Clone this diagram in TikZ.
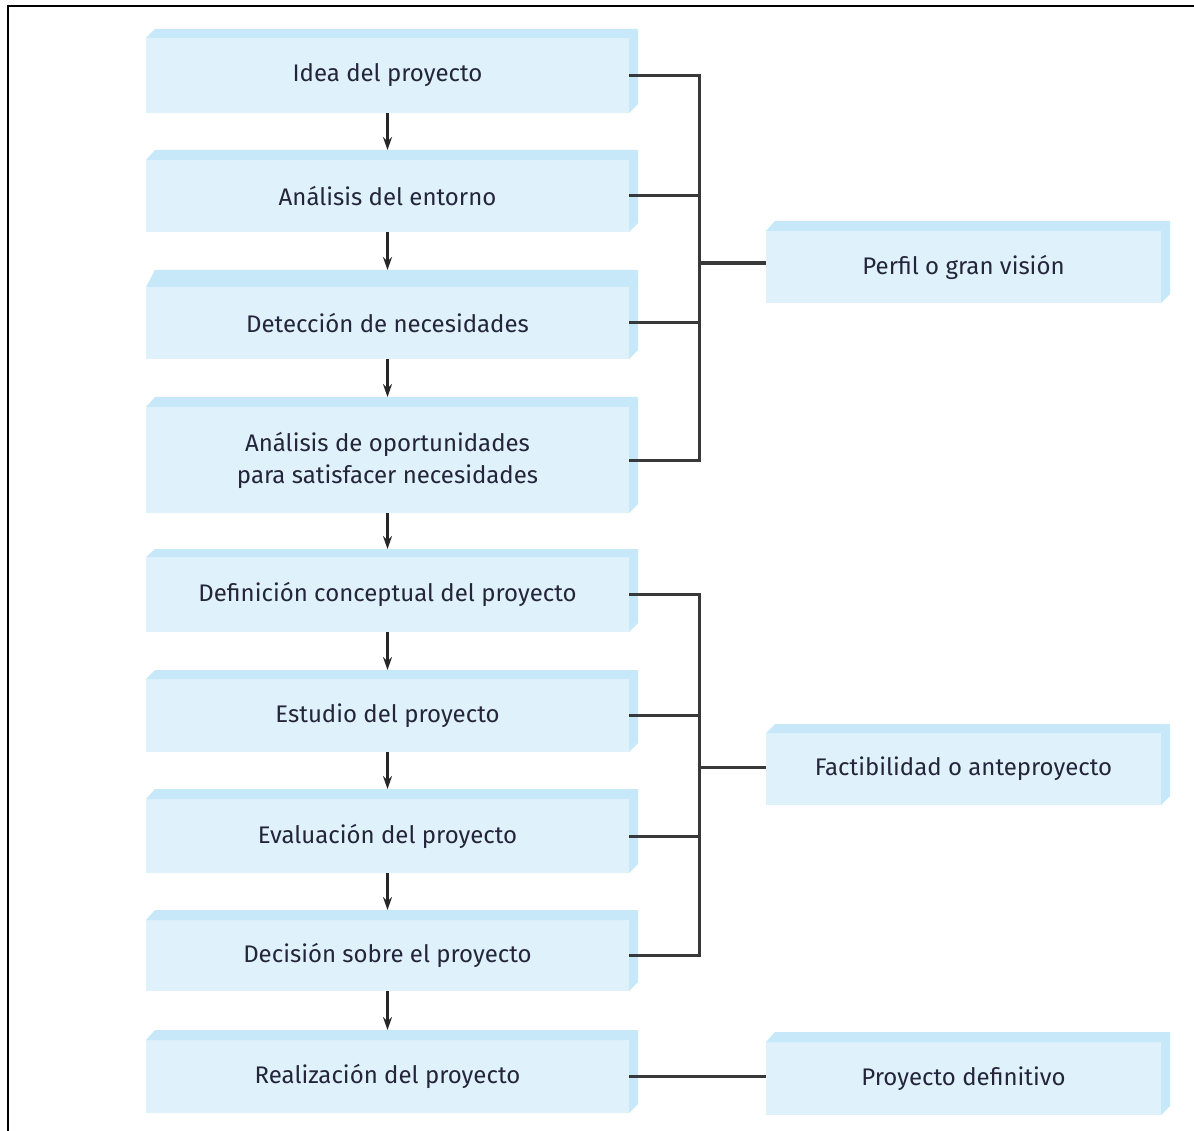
\documentclass[tikz,border=0pt]{standalone}
\usepackage{fontspec}
\setmainfont{Fira Sans}
\usetikzlibrary{arrows.meta}
\definecolor{facec}{HTML}{DFF2FB}
\definecolor{sidec}{HTML}{C7E8F8}
\definecolor{txtc}{HTML}{24243A}
\definecolor{linec}{HTML}{383838}
\tikzset{
  face/.style={fill=facec, draw=none, outer sep=0pt, inner sep=0pt, align=center,
    text=txtc, font=\fontsize{24}{32}\selectfont},
  sidefill/.style={fill=sidec, draw=none},
  conn/.style={draw=linec, line width=3pt},
  arr/.style={draw=black!85, line width=2.2pt, -{Stealth[length=13pt,width=9pt]}},
}
\newcommand{\boxthree}[7]{%
  \node[face, minimum width={(#3-9-#2)*1pt}, minimum height={(#6-#5)*1pt}] (#1) at ({(#2+#3-9)/2},{(#5+#6)/2}) {#7};
  \fill[sidefill] (#1.north west) -- ({#2+9},#4) -- (#3,#4) -- (#1.north east) -- cycle;
  \fill[sidefill] (#1.north east) -- (#3,#4) -- (#3,{#6-9}) -- (#1.south east) -- cycle;
  \coordinate (#1-top) at ({(#2+#3-9)/2},#4);
}
\begin{document}
\begin{tikzpicture}[x=1pt,y=-1pt]
\useasboundingbox (0,0) rectangle (1194,1131);
\draw[line width=2.5pt, black] (8,1131) -- (8,6) -- (1194,6);
% left column
\boxthree{n1}{146}{638}{29}{38}{113}{Idea del proyecto}
\boxthree{n2}{146}{638}{150}{160}{232}{Análisis del entorno}
\boxthree{n3}{146}{638}{270}{287}{359}{Detección de necesidades}
\boxthree{n4}{146}{638}{397}{407}{513}{Análisis de oportunidades\\para satisfacer necesidades}
\boxthree{n5}{146}{638}{549}{557}{632}{Definición conceptual del proyecto}
\boxthree{n6}{146}{638}{670}{679}{752}{Estudio del proyecto}
\boxthree{n7}{146}{638}{789}{799}{873}{Evaluación del proyecto}
\boxthree{n8}{146}{638}{910}{920}{991}{Decisión sobre el proyecto}
\boxthree{n9}{146}{638}{1030}{1040}{1113}{Realización del proyecto}
% right column
\boxthree{p1}{766}{1170}{221}{231}{303}{Perfil o gran visión}
\boxthree{p2}{766}{1170}{724}{733}{805}{Factibilidad o anteproyecto}
\boxthree{p3}{766}{1170}{1032}{1042}{1115}{Proyecto definitivo}
% arrows
\foreach \a/\b in {n1/n2,n2/n3,n3/n4,n4/n5,n5/n6,n6/n7,n7/n8,n8/n9}
  \draw[arr] (\a.south) -- (\a.south |- \b-top);
% bracket 1
\coordinate (jA) at (699,263);
\draw[conn] (n1.east) -| (jA) |- (n4.east);
\draw[conn] (n2.east) -- (n2.east -| jA);
\draw[conn] (n3.east) -- (n3.east -| jA);
\draw[conn, line width=3.5pt] (jA) -- (jA -| p1.west);
% bracket 2
\coordinate (jB) at (699,767);
\draw[conn] (n5.east) -| (jB) |- (n8.east);
\draw[conn] (n6.east) -- (n6.east -| jB);
\draw[conn] (n7.east) -- (n7.east -| jB);
\draw[conn] (jB) -- (jB -| p2.west);
% bottom
\draw[conn] (n9.east) -- (n9.east -| p3.west);
\end{tikzpicture}
\end{document}
